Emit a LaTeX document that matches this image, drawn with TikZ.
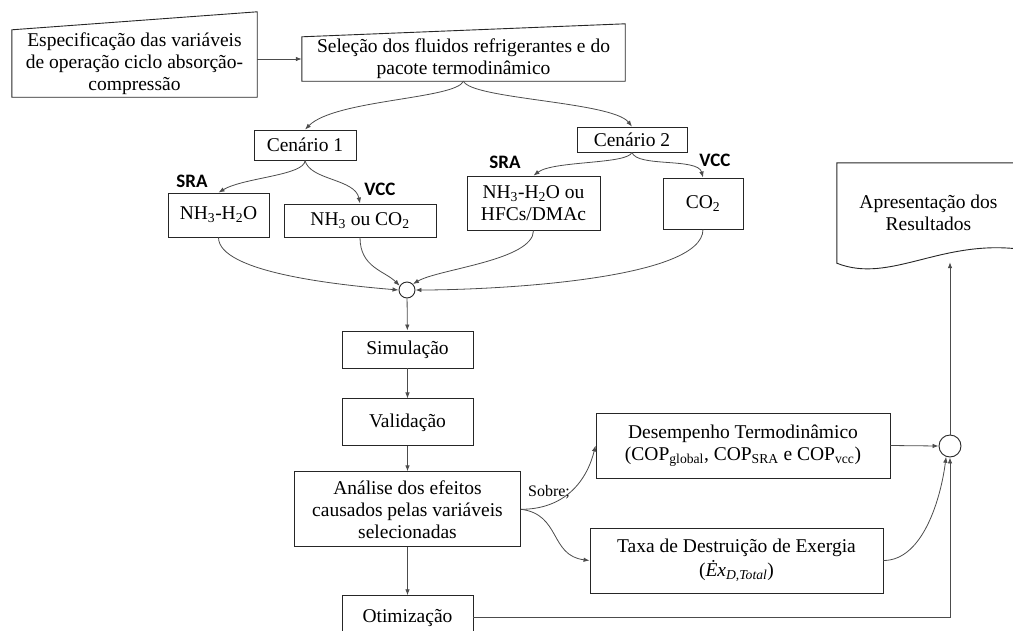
\documentclass[tikz,border=0pt]{standalone}
\usepackage{fontspec}
\setmainfont{Liberation Serif}
\newfontfamily\tagfont{Carlito}
\usepackage{tikz}
\usetikzlibrary{calc, positioning, arrows.meta}
\tikzset{
    block/.style={rectangle, draw=black!85, line width=0.9pt, fill=white, align=center, inner sep=1pt, font=\fontsize{19.5}{22}\selectfont},
    flat/.style={rectangle, draw=none, align=center, inner sep=1pt, font=\fontsize{19.5}{22}\selectfont},
    outline/.style={draw=black!85, line width=0.9pt},
    junction/.style={circle, draw=black!85, line width=0.9pt, fill=white, inner sep=0pt},
    tag/.style={inner sep=0pt, font=\tagfont\bfseries\fontsize{19}{21}\selectfont},
    note/.style={inner sep=0pt, font=\fontsize{16}{18}\selectfont},
    arrow/.style={-{Latex[length=6pt,width=4.5pt]}, draw=black!70, line width=0.8pt},
    line/.style={draw=black!70, line width=0.8pt}
}

\begin{document}
\begin{tikzpicture}[x=1pt, y=1pt]
        \useasboundingbox (0,0) rectangle (1013,-630);

        % Input
        \node[flat, minimum width=245pt, minimum height=67pt] (Spec) at (134.5,-63.5) {Especificação das variáveis\\de operação ciclo absorção-\\compressão};
        \draw[outline] (Spec.south west) -- (Spec.south east) -- ([yshift=18pt]Spec.north east) -- (Spec.north west) -- cycle;
        \node[flat, minimum width=323pt, minimum height=44pt] (Sel) at (463.5,-59) {Seleção dos fluidos refrigerantes e do\\pacote termodinâmico};
        \draw[outline] (Sel.south west) -- (Sel.south east) -- ([yshift=13pt]Sel.north east) -- (Sel.north west) -- cycle;

        % Scenarios
        \node[block, minimum width=102pt, minimum height=30pt] (Cen1) at (305,-145) {Cenário 1};
        \node[block, minimum width=110pt, minimum height=25pt] (Cen2) at (632,-139.5) {Cenário 2};
        \node[block, minimum width=101pt, minimum height=44pt] (Nh1) at (218.5,-215) {NH\textsubscript{3}-H\textsubscript{2}O};
        \node[block, minimum width=152pt, minimum height=33pt] (Vcc1) at (360,-220.5) {NH\textsubscript{3} ou CO\textsubscript{2}};
        \node[block, minimum width=133pt, minimum height=54pt] (Nh2) at (533.5,-203) {NH\textsubscript{3}-H\textsubscript{2}O ou\\HFCs/DMAc};
        \node[block, minimum width=80pt, minimum height=51pt] (Co2) at (703,-203.5) {CO\textsubscript{2}};
        \node[tag] (SraA) at (192,-181) {SRA};
        \node[tag] (VccA) at (380,-189) {VCC};
        \node[tag] (SraB) at (505,-162) {SRA};
        \node[tag] (VccB) at (715,-160) {VCC};

        % Main column
        \node[junction, minimum size=16pt] (Mix1) at (407,-290) {};
        \node[block, minimum width=131pt, minimum height=37pt] (Sim) at (407.5,-349.5) {Simulação};
        \node[block, minimum width=131pt, minimum height=47pt, below=30pt of Sim] (Val) {Validação};
        \node[block, minimum width=226pt, minimum height=75pt, below=25pt of Val] (Ana) {Análise dos efeitos\\causados pelas variáveis\\selecionadas};
        \node[block, minimum width=131pt, minimum height=44pt, below=48pt of Ana] (Oti) {Otimização};

        % Results
        \node[block, minimum width=294pt, minimum height=65pt] (Des) at (743,-445.5) {Desempenho Termodinâmico\\(COP\textsubscript{global}, COP\textsubscript{SRA} e COP\textsubscript{vcc})};
        \node[block, minimum width=293pt, minimum height=65pt] (Tax) at (736.5,-560.5) {Taxa de Destruição de Exergia\\[2pt](\textit{Ėx}\textsubscript{\textit{D,Total}})};
        \node[junction, minimum size=22pt] (Mix2) at (950,-446) {};
        \node[flat, minimum width=183pt, minimum height=99pt] (Apr) at (928.5,-212.5) {Apresentação dos\\Resultados};
        \draw[outline] ([yshift=13pt]Apr.south east) -- (Apr.north east) -- (Apr.north west) -- ([yshift=-1pt]Apr.south west)
            .. controls +(53,-21) and +(-80,10) .. ([yshift=13pt]Apr.south east);
        \node[note] (Sobre) at (549,-492) {Sobre;};

        % Connections
        \draw[arrow] (Spec.east |- Sel.west) -- (Sel.west);
        \draw[arrow] (Sel.south) .. controls +(-8,-18) and +(30,30) .. (Cen1.north);
        \draw[arrow] (Sel.south) .. controls +(8,-18) and +(-20,25) .. (Cen2.north);
        \draw[arrow] (Cen1.south) .. controls +(0,-15) and +(25,15) .. (Nh1.north);
        \draw[arrow] (Cen1.south) .. controls +(5,-20) and +(-5,25) .. (Vcc1.north);
        \draw[arrow] (Cen2.south) .. controls +(-5,-12) and +(20,15) .. (Nh2.north);
        \draw[arrow] (Cen2.south) .. controls +(5,-15) and +(-5,20) .. (Co2.north);

        \draw[arrow] (Nh1.south) .. controls +(0,-35) and +(-60,5) .. (Mix1.west);
        \draw[arrow] (Vcc1.south) .. controls +(0,-30) and +(-15,15) .. (Mix1.150);
        \draw[arrow] (Nh2.south) .. controls +(0,-30) and +(25,15) .. (Mix1.north east);
        \draw[arrow] (Co2.south) .. controls +(0,-50) and +(80,0) .. (Mix1.east);

        \draw[arrow] (Mix1) -- (Sim);
        \draw[arrow] (Sim) -- (Val);
        \draw[arrow] (Val) -- (Ana);
        \draw[arrow] (Ana) -- (Oti);

        \draw[arrow] (Ana.east) .. controls +(40,0) and +(-10,-40) .. (Des.west);
        \draw[arrow] (Ana.east) .. controls +(40,-5) and +(-40,5) .. (Tax.west);
        \draw[arrow] (Des.east) -- (Mix2.west);
        \draw[arrow] (Tax.east) .. controls +(40,0) and +(-5,-40) .. (Mix2.250);
        \draw[arrow] (Oti.east) -| (Mix2.south);
        \draw[arrow] (Mix2.north) -- (Mix2.north |- Apr.south);
    \end{tikzpicture}
\end{document}
